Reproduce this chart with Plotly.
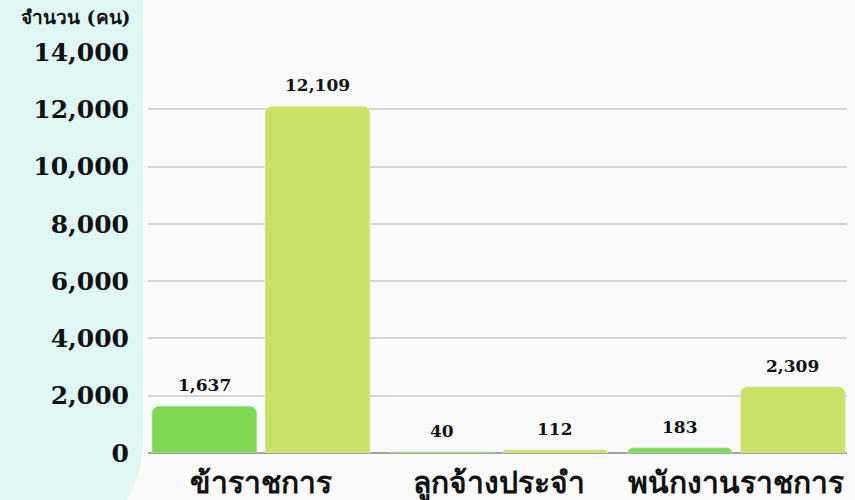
import plotly.graph_objects as go

categories = ["ข้าราชการ", "ลูกจ้างประจำ", "พนักงานราชการ"]
series_a = [1637, 40, 183]
series_b = [12109, 112, 2309]
tick_vals = [0, 2000, 4000, 6000, 8000, 10000, 12000, 14000]
tick_text = ["0", "2,000", "4,000", "6,000", "8,000", "10,000", "12,000", "14,000"]
y_title = "จำนวน (คน)"

W, H = 855, 500
L, R, T, B = 148, 8, 52, 47
pw, ph = W - L - R, H - T - B

def px_x(p):
    return (p - L) / pw

def px_y(p):
    return 1 - (p - T) / ph

serif = "DejaVu Serif, Liberation Serif, serif"
BARGAP, GROUPGAP = 0.049, 0.071
X_RANGE = [-0.475, 2.465]
cat_px = pw / (X_RANGE[1] - X_RANGE[0])
slot = cat_px * (1 - BARGAP) / 2

fig = go.Figure()
for vals, color, sign in ((series_a, "#7ED957", -1), (series_b, "#C9E265", 1)):
    fig.add_trace(go.Bar(
        x=categories, y=vals, marker=dict(color=color, cornerradius=7),
        showlegend=False, hoverinfo="x+y",
    ))
    for c, v in zip(categories, vals):
        fig.add_annotation(
            x=c, y=v, xref="x", yref="y", text=f"{v:,}", showarrow=False,
            xshift=sign * slot / 2, yshift=9, yanchor="bottom",
            font=dict(family=serif, size=17, color="#111111", weight="bold"),
        )

# background rounded panel on the left
x0, x1 = px_x(-60), px_x(143)
r = 100
ytop, ybot = px_y(-60), px_y(535)
path = (
    f"M {x0},{ytop} L {x1},{ytop} L {x1},{px_y(535 - r)} "
    f"Q {x1},{ybot} {px_x(143 - r)},{ybot} L {x0},{ybot} Z"
)
fig.add_shape(type="path", path=path, xref="paper", yref="paper",
              fillcolor="#E0F6F5", line=dict(width=0), layer="below")

fig.add_annotation(text=y_title, x=px_x(19), y=px_y(17), xref="paper", yref="paper",
                   xanchor="left", yanchor="middle", showarrow=False,
                   font=dict(family=serif, size=19, color="#111111", weight="bold"))

fig.update_layout(
    width=W, height=H,
    margin=dict(l=L, r=R, t=T, b=B, autoexpand=False),
    paper_bgcolor="#FAFAFA", plot_bgcolor="rgba(0,0,0,0)",
    barmode="group", bargap=BARGAP, bargroupgap=GROUPGAP,
    xaxis=dict(
        range=X_RANGE,
        tickfont=dict(family=serif, size=30, color="#111111", weight="bold"),
        showgrid=False, showline=False, ticklabelstandoff=9, automargin=False,
    ),
    yaxis=dict(
        range=[0, 14000], tickvals=tick_vals, ticktext=tick_text,
        tickfont=dict(family=serif, size=25, color="#111111", weight="bold"),
        gridcolor="#D4D4D4", gridwidth=1.5,
        zeroline=True, zerolinecolor="#A0A0A0", zerolinewidth=2,
        ticklabelstandoff=18, automargin=False,
    ),
)

fig.write_html(
    "out.html",
    config={"displayModeBar": False},
    post_script="document.body.style.margin='0';document.body.style.overflow='hidden';",
)
